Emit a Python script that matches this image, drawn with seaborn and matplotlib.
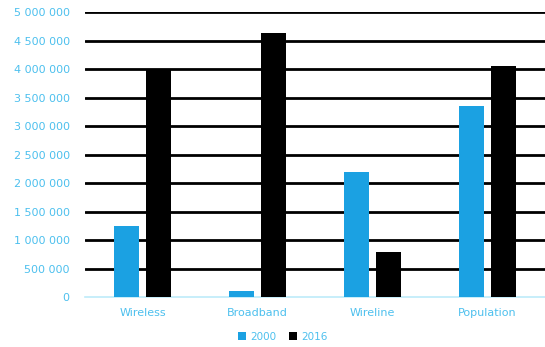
import matplotlib
matplotlib.use("Agg")
import matplotlib.pyplot as plt
import seaborn as sns
import pandas as pd
from matplotlib.ticker import FuncFormatter, MultipleLocator

categories = ["Wireless", "Broadband", "Wireline", "Population"]
years = ["2000", "2016"]
values_2000 = [1240000, 100000, 2200000, 3360000]
values_2016 = [3980000, 4630000, 790000, 4060000]

df = pd.DataFrame({
    "category": categories * 2,
    "year": [years[0]] * 4 + [years[1]] * 4,
    "value": values_2000 + values_2016,
})

sns.set_theme(style="white")
plt.rcParams['font.family'] = ['DejaVu Sans']

text_color = "#4DC0EE"
fig = plt.figure(figsize=(5.45, 3.47), dpi=100)
ax = fig.add_axes([0.156, 0.144, 0.844, 0.821])

sns.barplot(data=df, x="category", y="value", hue="year",
            palette={"2000": "#1BA1E2", "2016": "#000000"},
            width=0.55, gap=0.2, saturation=1, linewidth=0, ax=ax, zorder=3)

ax.set_ylim(0, 5000000)
ax.set_xlim(-0.5, 3.5)
ax.yaxis.set_major_locator(MultipleLocator(500000))
ax.yaxis.set_major_formatter(FuncFormatter(lambda v, p: f"{int(v):,}".replace(",", " ")))
for y in range(500000, 5000001, 500000):
    ax.axhline(y, color="black", lw=2, zorder=1)

for s in ["top", "right", "left"]:
    ax.spines[s].set_visible(False)
ax.spines["bottom"].set_color("#BDEBFA")
ax.spines["bottom"].set_linewidth(1.2)

ax.tick_params(axis="both", length=0, labelsize=8, labelcolor=text_color)
ax.tick_params(axis="y", pad=11)
ax.tick_params(axis="x", pad=8)
ax.set_xlabel("")
ax.set_ylabel("")

leg = ax.legend(loc="upper center", bbox_to_anchor=(0.43, -0.09), ncol=2,
                frameon=False, fontsize=7.5, handlelength=0.8, handleheight=0.8,
                handletextpad=0.4, columnspacing=1.2)
for t in leg.get_texts():
    t.set_color(text_color)

fig.savefig("out.png", dpi=100)
